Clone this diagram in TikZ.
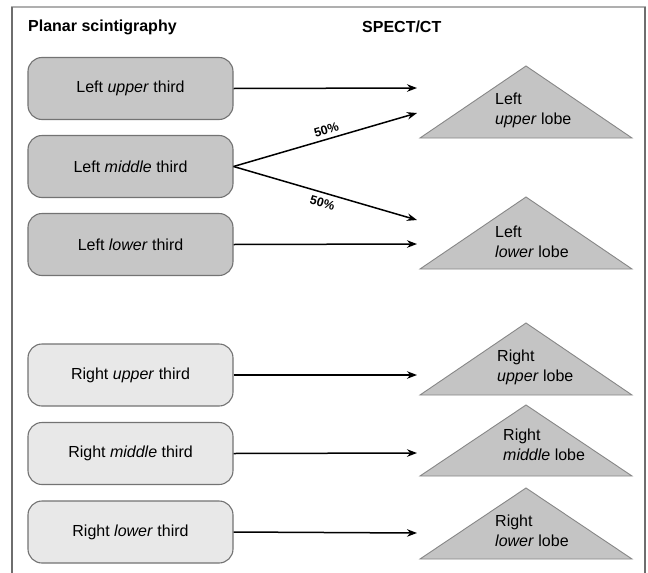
\documentclass[tikz,border=0pt]{standalone}
\usepackage{fontspec}
\setmainfont{Liberation Sans}
\usetikzlibrary{arrows.meta}
\definecolor{darkfill}{RGB}{198,198,198}
\definecolor{lightfill}{RGB}{232,232,232}
\definecolor{lobefill}{RGB}{196,196,196}
\definecolor{boxline}{RGB}{115,115,115}
\definecolor{lobeline}{RGB}{135,135,135}
\definecolor{frametop}{RGB}{175,175,175}
\definecolor{frameside}{RGB}{110,110,110}
\begin{document}
\begin{tikzpicture}[x=1pt,y=-1pt,
  box/.style={draw=boxline, line width=1.1pt, rounded corners=14pt, minimum width=205pt, minimum height=62pt, font=\fontsize{16}{19}\selectfont, inner sep=0pt},
  leftbox/.style={box, fill=darkfill},
  rightbox/.style={box, fill=lightfill},
  lobe/.style={draw=lobeline, line width=0.9pt, fill=lobefill},
  lobetext/.style={anchor=west, align=left, font=\fontsize{16}{20}\selectfont, inner sep=0pt},
  conn/.style={-{Stealth[length=10pt,width=7.5pt]}, line width=1.5pt},
  pct/.style={font=\bfseries\fontsize{12.5}{14}\selectfont, sloped, inner sep=0pt},
  title/.style={font=\bfseries\fontsize{16}{19}\selectfont, anchor=west, inner sep=0pt}]
\useasboundingbox (0,0) rectangle (648,573);
\fill[white] (0,0) rectangle (648,573);
% frame
\draw[frametop, line width=2pt] (11,7) -- (646,7);
\draw[frameside, line width=1.2pt] (12,7) -- (12,573);
\draw[frameside, line width=1.5pt] (645,7) -- (645,573);
% titles
\node[title] (h1) at (28,27) {Planar scintigraphy};
\node[title] (h2) at (362,27) {SPECT/CT};
% left boxes
\node[leftbox] (lu) at (130.5,88.5) {Left \textit{upper} third};
\node[leftbox] (lm) at (130.5,166.5) {Left \textit{middle} third};
\node[leftbox] (ll) at (130.5,244.5) {Left \textit{lower} third};
% right boxes
\node[rightbox] (ru) at (130.5,375) {Right \textit{upper} third};
\node[rightbox] (rm) at (130.5,453.5) {Right \textit{middle} third};
\node[rightbox] (rl) at (130.5,532) {Right \textit{lower} third};
% lobes
\draw[lobe] (420,138) -- (526,66) -- (632,138) -- cycle;
\draw[lobe] (420,269) -- (526,197) -- (632,269) -- cycle;
\draw[lobe] (420,395) -- (526,323) -- (632,395) -- cycle;
\draw[lobe] (420,476) -- (526,405) -- (632,476) -- cycle;
\draw[lobe] (420,559) -- (526,488) -- (632,559) -- cycle;
\node[lobetext] (tlu) at (495,110) {Left\\\textit{upper} lobe};
\node[lobetext] (tll) at (495,242) {Left\\\textit{lower} lobe};
\node[lobetext] (tru) at (497,367) {Right\\\textit{upper} lobe};
\node[lobetext] (trm) at (503,445) {Right\\\textit{middle} lobe};
\node[lobetext] (trl) at (495,531) {Right\\\textit{lower} lobe};
% arrow ends
\coordinate (e1) at (417,88);
\coordinate (e2) at (417,113);
\coordinate (e3) at (417,220);
\coordinate (e4) at (417,244);
\coordinate (e5) at (417,375);
\coordinate (e6) at (417,453);
\coordinate (e7) at (417,533);
% connectors
\draw[conn] (lu.east) -- (e1);
\draw[conn] (lm.east) -- node[pct, above=4pt, pos=0.52] (p1) {50\%} (e2);
\draw[conn] (lm.east) -- node[pct, below=5pt, pos=0.5] (p2) {50\%} (e3);
\draw[conn] (ll.east) -- (e4);
\draw[conn] (ru.east) -- (e5);
\draw[conn] (rm.east) -- (e6);
\draw[conn] (rl.east) -- (e7);
\end{tikzpicture}
\end{document}
